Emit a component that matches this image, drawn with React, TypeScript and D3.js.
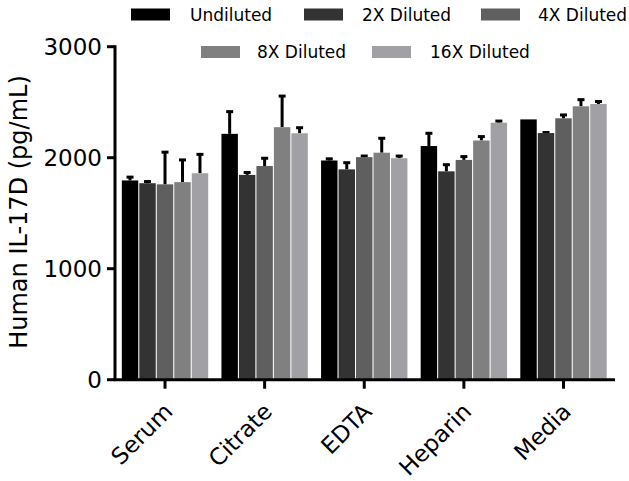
import React from "react";
import * as d3 from "d3";

const categories = ["Serum", "Citrate", "EDTA", "Heparin", "Media"];
const series = ["Undiluted", "2X Diluted", "4X Diluted", "8X Diluted", "16X Diluted"];
const colors = ["#000000", "#333333", "#5f5f5f", "#808080", "#a1a0a5"];
// values[series][category]
const undiluted = [1795, 2215, 1975, 2105, 2345];
const dil2x = [1770, 1845, 1895, 1877, 2222];
const dil4x = [1760, 1925, 2005, 1980, 2355];
const dil8x = [1780, 2275, 2045, 2155, 2463];
const dil16x = [1860, 2220, 1995, 2315, 2484];
const err_undiluted = [30, 200, 15, 115, 0];
const err_2x = [15, 22, 60, 60, 5];
const err_4x = [290, 70, 10, 30, 30];
const err_8x = [200, 280, 130, 35, 60];
const err_16x = [170, 50, 20, 15, 22];
const yTicks = [0, 1000, 2000, 3000];

const values = [undiluted, dil2x, dil4x, dil8x, dil16x];
const errors = [err_undiluted, err_2x, err_4x, err_8x, err_16x];

const FONT = "'DejaVu Sans', sans-serif";

export default function App() {
  const W = 629, H = 481;
  const x0 = d3.scaleBand<string>().domain(categories).range([115.2, 613.3]).paddingInner(0.133).paddingOuter(0.0665);
  const x1 = d3.scaleBand<string>().domain(series).range([0, x0.bandwidth()]).paddingInner(0.06);
  const y = d3.scaleLinear().domain([0, 3000]).range([379.7, 46.7]);
  const axisX = 115;

  const legendPos = [
    { sx: 131, tx: 190, y: 14.5 },
    { sx: 304, tx: 362, y: 14.5 },
    { sx: 481, tx: 538, y: 14.5 },
    { sx: 201, tx: 257, y: 52 },
    { sx: 372, tx: 430, y: 52 },
  ];

  return (
    <svg width={W} height={H} style={{ display: "block", position: "absolute", left: 0, top: 0 }}>
      <rect width={W} height={H} fill="#fff" />
      {/* bars */}
      {categories.map((c, ci) => (
        <g key={c} transform={`translate(${x0(c)},0)`}>
          {series.map((s, si) => {
            const v = values[si][ci];
            const e = errors[si][ci];
            const bx = x1(s)!;
            const bw = x1.bandwidth();
            const cx = bx + bw / 2;
            return (
              <g key={s}>
                {e > 0 && (
                  <g stroke="#000" strokeWidth={3}>
                    <line x1={cx} x2={cx} y1={y(v)} y2={y(v + e)} />
                    <line x1={cx - 3.5} x2={cx + 3.5} y1={y(v + e)} y2={y(v + e)} />
                  </g>
                )}
                <rect x={bx} y={y(v)} width={bw} height={y(0) - y(v)} fill={colors[si]} />
              </g>
            );
          })}
        </g>
      ))}
      {/* y axis */}
      <line x1={axisX} x2={axisX} y1={y(3000) - 1.5} y2={y(0)} stroke="#000" strokeWidth={3} />
      {yTicks.map((t) => (
        <g key={t}>
          <line x1={axisX - 8} x2={axisX} y1={y(t)} y2={y(t)} stroke="#000" strokeWidth={3} />
          <text x={102} y={y(t)} dy="0.36em" textAnchor="end" fontFamily={FONT} fontSize={23} fill="#000">
            {t}
          </text>
        </g>
      ))}
      {/* x axis */}
      <line x1={axisX - 1.5} x2={615} y1={y(0)} y2={y(0)} stroke="#000" strokeWidth={3} />
      {categories.map((c) => {
        const cx = x0(c)! + x0.bandwidth() / 2;
        return (
          <g key={c}>
            <line x1={cx} x2={cx} y1={y(0)} y2={y(0) + 9} stroke="#000" strokeWidth={3} />
            <text
              transform={`translate(${cx + 9},${413}) rotate(-45)`}
              textAnchor="end"
              fontFamily={FONT}
              fontSize={23}
              fill="#000"
            >
              {c}
            </text>
          </g>
        );
      })}
      {/* y title */}
      <text
        transform={`translate(27,212) rotate(-90)`}
        textAnchor="middle"
        fontFamily={FONT}
        fontSize={24}
        fill="#000"
      >
        Human IL-17D (pg/mL)
      </text>
      {/* legend */}
      {series.map((s, i) => (
        <g key={s}>
          <rect x={legendPos[i].sx} y={legendPos[i].y - 6} width={39} height={12} fill={colors[i]} />
          <text x={legendPos[i].tx} y={legendPos[i].y} dy="0.36em" fontFamily={FONT} fontSize={17} fill="#000">
            {s}
          </text>
        </g>
      ))}
    </svg>
  );
}
